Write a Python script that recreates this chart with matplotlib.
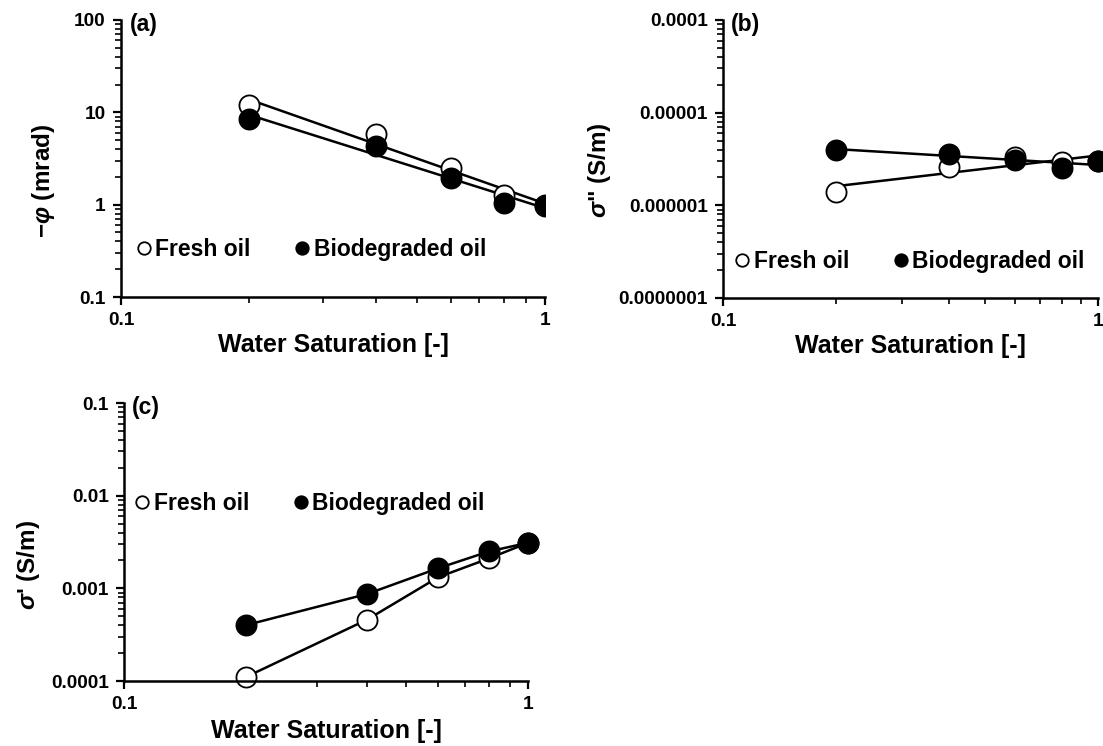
import numpy as np
import matplotlib
matplotlib.use('Agg')
import matplotlib.pyplot as plt
from matplotlib.ticker import LogLocator, FixedLocator, FixedFormatter, NullFormatter

plt.rcParams['font.family'] = ['Liberation Sans', 'DejaVu Sans']
plt.rcParams['font.weight'] = 'bold'
plt.rcParams['mathtext.fontset'] = 'custom'
plt.rcParams['mathtext.rm'] = 'Liberation Sans:bold'
plt.rcParams['mathtext.it'] = 'Liberation Sans:italic:bold'
plt.rcParams['mathtext.bf'] = 'Liberation Sans:bold'

# water saturation steps
sw = np.array([0.2, 0.4, 0.6, 0.8, 1.0])

# (a) phase angle, mrad
phase_fresh = np.array([12.0, 5.8, 2.5, 1.28, 1.0])
phase_bio = np.array([8.5, 4.3, 1.95, 1.05, 0.97])

# (b) imaginary conductivity, S/m
imag_fresh = np.array([1.4e-6, 2.6e-6, 3.3e-6, 2.9e-6, 3.0e-6])
imag_bio = np.array([4.0e-6, 3.6e-6, 3.1e-6, 2.5e-6, 3.0e-6])

# (c) real conductivity, S/m
real_fresh = np.array([1.1e-4, 4.6e-4, 1.32e-3, 2.1e-3, 3.1e-3])
real_bio = np.array([4.0e-4, 8.7e-4, 1.65e-3, 2.5e-3, 3.1e-3])

yticks_a = [0.1, 1, 10, 100]
ylabels_a = ['0.1', '1', '10', '100']
yticks_b = [1e-7, 1e-6, 1e-5, 1e-4]
ylabels_b = ['0.0000001', '0.000001', '0.00001', '0.0001']
yticks_c = [1e-4, 1e-3, 1e-2, 1e-1]
ylabels_c = ['0.0001', '0.001', '0.01', '0.1']

W, H = 1103, 746
fig = plt.figure(figsize=(W / 100, H / 100), dpi=100)


def box(l, r, t, b):
    return [l / W, 1 - b / H, (r - l) / W, (b - t) / H]


def powerfit(x, y):
    # straight line in log-log space
    p = np.polyfit(np.log10(x), np.log10(y), 1)
    xf = np.array([x.min(), x.max()])
    return xf, 10 ** np.polyval(p, np.log10(xf))


def setup(ax, yt, yl, ylabel, tag, ylab_xy, xlab_y, leg_xy):
    ax.set_xscale('log')
    ax.set_yscale('log')
    ax.set_xlim(0.1, 1)
    ax.set_ylim(yt[0], yt[-1])
    for s in ['top', 'right']:
        ax.spines[s].set_visible(False)
    for s in ['left', 'bottom']:
        ax.spines[s].set_linewidth(1.8)
    ax.xaxis.set_major_locator(FixedLocator([0.1, 1]))
    ax.xaxis.set_major_formatter(FixedFormatter(['0.1', '1']))
    ax.xaxis.set_minor_locator(LogLocator(base=10, subs=np.arange(2, 10)))
    ax.xaxis.set_minor_formatter(NullFormatter())
    ax.yaxis.set_major_locator(FixedLocator(yt))
    ax.yaxis.set_major_formatter(FixedFormatter(yl))
    ax.yaxis.set_minor_locator(LogLocator(base=10, subs=np.arange(2, 10), numticks=20))
    ax.yaxis.set_minor_formatter(NullFormatter())
    ax.tick_params(which='major', direction='out', length=6, width=1.6, labelsize=13.7, pad=5)
    ax.tick_params(which='minor', direction='out', length=4, width=1.2)
    ax.set_xlabel('Water Saturation [-]', fontsize=18, fontweight='bold')
    ax.xaxis.set_label_coords(0.5, xlab_y)
    ax.set_ylabel(ylabel, fontsize=17.5, fontweight='bold')
    ax.yaxis.set_label_coords(*ylab_xy)
    ax.text(0.02, 0.985, tag, transform=ax.transAxes, fontsize=16.5,
            fontweight='bold', va='center', ha='left')
    ax.legend(loc='center left', bbox_to_anchor=leg_xy, ncol=2, frameon=False,
              fontsize=16.5, handlelength=0.7, handletextpad=0.15,
              columnspacing=1.9, markerscale=0.62, borderaxespad=0, borderpad=0)


mk = dict(marker='o', ms=14.5, mew=1.3, mec='black', linestyle='none')

# (a) phase
ax1 = fig.add_axes(box(121, 545, 20, 297))
xf, yf = powerfit(sw, phase_fresh)
ax1.plot(xf, yf, color='black', lw=1.8)
xf, yf = powerfit(sw, phase_bio)
ax1.plot(xf, yf, color='black', lw=1.8)
ax1.plot(sw, phase_fresh, mfc='white', label='Fresh oil', **mk)
ax1.plot(sw, phase_bio, mfc='black', label='Biodegraded oil', **mk)
setup(ax1, yticks_a, ylabels_a, r'$-\mathit{\varphi}$ (mrad)', '(a)',
      (-0.15, 0.42), -0.13, (0.035, 0.17))

# (b) imaginary conductivity
ax2 = fig.add_axes(box(723, 1098, 20, 298))
xf, yf = powerfit(sw, imag_fresh)
ax2.plot(xf, yf, color='black', lw=1.8, clip_on=False)
xf, yf = powerfit(sw, imag_bio)
ax2.plot(xf, yf, color='black', lw=1.8, clip_on=False)
ax2.plot(sw, imag_fresh, mfc='white', label='Fresh oil', clip_on=False, **mk)
ax2.plot(sw, imag_bio, mfc='black', label='Biodegraded oil', clip_on=False, **mk)
setup(ax2, yticks_b, ylabels_b, r'$\mathit{\sigma}$" (S/m)', '(b)',
      (-0.293, 0.46), -0.13, (0.03, 0.13))

# (c) real conductivity
ax3 = fig.add_axes(box(124, 528, 403, 681))
ax3.plot(sw, real_fresh, color='black', lw=1.8)
ax3.plot(sw, real_bio, color='black', lw=1.8)
ax3.plot(sw, real_fresh, mfc='white', label='Fresh oil', clip_on=False, **mk)
ax3.plot(sw, real_bio, mfc='black', label='Biodegraded oil', clip_on=False, **mk)
setup(ax3, yticks_c, ylabels_c, r"$\mathit{\sigma}$' (S/m)", '(c)',
      (-0.203, 0.417), -0.135, (0.025, 0.64))

fig.savefig('out.png', dpi=100)
